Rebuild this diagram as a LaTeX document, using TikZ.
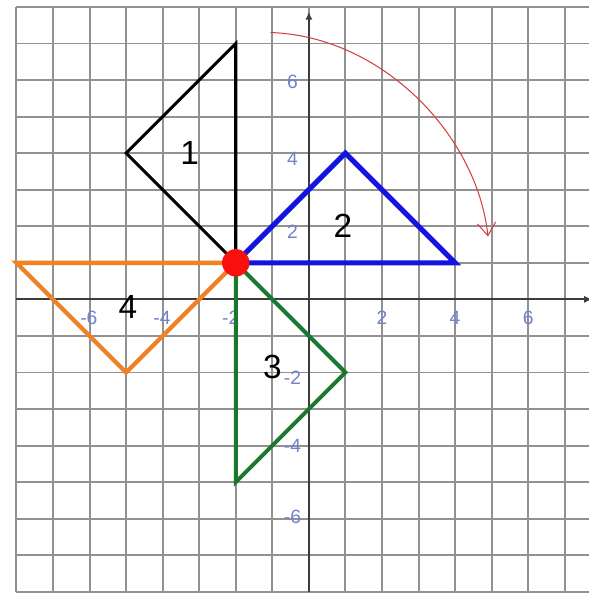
\documentclass[tikz,border=0pt]{standalone}
\usepackage{fontspec}
\setmainfont{Liberation Sans}
\usetikzlibrary{arrows.meta}
\definecolor{gridc}{RGB}{145,145,145}
\definecolor{axisc}{RGB}{60,60,60}
\definecolor{labc}{RGB}{115,130,205}
\definecolor{tblue}{RGB}{20,20,225}
\definecolor{torange}{RGB}{240,130,35}
\definecolor{tgreen}{RGB}{25,120,45}
\definecolor{tred}{RGB}{250,15,15}
\definecolor{arrc}{RGB}{215,60,60}
\tikzset{
  gridline/.style={draw=gridc, line width=1.5pt},
  axisline/.style={draw=axisc, line width=1.7pt, -{Latex[length=2.2mm,width=2mm]}},
  axlab/.style={text=labc, font=\fontsize{15}{17}\selectfont, inner sep=0pt},
  trilab/.style={text=black, font=\fontsize{26}{30}\selectfont, inner sep=0pt},
  tri/.style={line join=miter, line cap=round},
}
\begin{document}
\begin{tikzpicture}[x=1cm,y=1cm]
\useasboundingbox (-8.45,-8.06) rectangle (7.66,8.19);
\fill[white] (-8.45,-8.06) rectangle (7.66,8.19);
% grid
\foreach \i in {-8,...,8} {
  \draw[gridline] (\i,-8) -- (\i,8);
  \draw[gridline] (-8,\i) -- (8,\i);
}
% axes
\coordinate (xs) at (-8,0);
\coordinate (xe) at (7.75,0);
\coordinate (ys) at (0,-8);
\coordinate (ye) at (0,7.87);
\draw[axisline] (xs) -- (xe);
\draw[axisline] (ys) -- (ye);
% axis labels
\node[axlab] (xlm6) at (-6.02,-0.5) {-6};
\node[axlab] (xlm4) at (-4.02,-0.5) {-4};
\node[axlab] (xlm2) at (-2.14,-0.5) {-2};
\node[axlab] (xl2) at (2,-0.5) {2};
\node[axlab] (xl4) at (4,-0.5) {4};
\node[axlab] (xl6) at (6,-0.5) {6};
\node[axlab] (yl6) at (-0.45,5.95) {6};
\node[axlab] (yl4) at (-0.45,3.85) {4};
\node[axlab] (yl2) at (-0.45,1.85) {2};
\node[axlab] (ylm2) at (-0.45,-2.15) {-2};
\node[axlab] (ylm4) at (-0.45,-4.0) {-4};
\node[axlab] (ylm6) at (-0.45,-5.95) {-6};
% vertices
\coordinate (C) at (-2,1);
\coordinate (A1) at (-2,7);
\coordinate (B1) at (-5,4);
\coordinate (A2) at (4,1);
\coordinate (B2) at (1,4);
\coordinate (A3) at (-2,-5);
\coordinate (B3) at (1,-2);
\coordinate (A4) at (-8,1);
\coordinate (B4) at (-5,-2);
% triangles
\draw[tri, draw=torange, line width=3.4pt] (C) -- (A4) -- (B4) -- cycle;
\draw[tri, draw=tgreen, line width=3.1pt] (C) -- (A3) -- (B3) -- cycle;
\draw[tri, draw=tblue, line width=4pt] (C) -- (A2) -- (B2) -- cycle;
\draw[tri, draw=black, line width=2.4pt] (C) -- (A1) -- (B1) -- cycle;
% centre
\node[circle, fill=tred, minimum size=0.75cm, inner sep=0pt] (dot) at (C) {};
% triangle labels
\node[trilab] (t1) at (-3.26,4.0) {1};
\node[trilab] (t2) at (0.93,2.0) {2};
\node[trilab] (t3) at (-1.0,-1.85) {3};
\node[trilab] (t4) at (-4.95,-0.2) {4};
% rotation arrow
\coordinate (rs) at (-1.05,7.3);
\coordinate (re) at (4.9,1.72);
\draw[arrc, line width=0.8pt, -{Straight Barb[length=3.5mm,width=5mm]}]
  (rs) .. controls (2,7.2) and (4.6,4.5) .. (re);
\end{tikzpicture}
\end{document}
